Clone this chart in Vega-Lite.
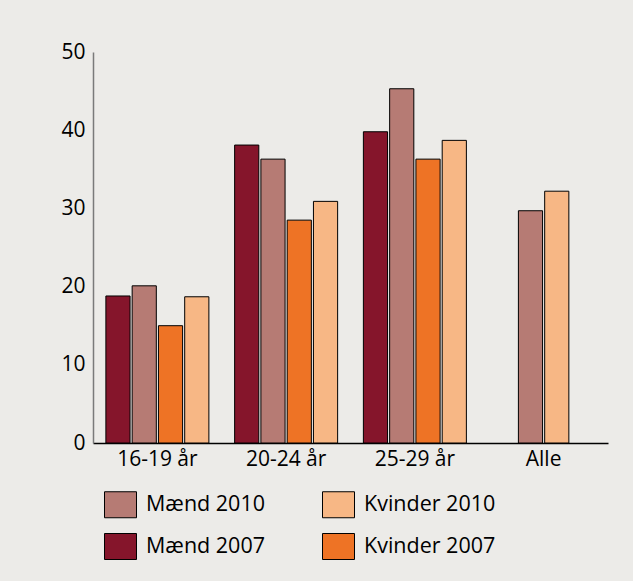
{
  "$schema": "https://vega.github.io/schema/vega-lite/v6.json",
  "autosize": "none",
  "width": 515,
  "height": 391,
  "padding": {"left": 93, "top": 52, "right": 25, "bottom": 138},
  "background": "#ecebe8",
  "config": {
    "font": "Open Sans",
    "view": {"stroke": null},
    "axis": {"labelFont": "Open Sans", "labelColor": "#000000", "labelFontSize": 21, "grid": false, "ticks": false, "title": null},
    "legend": {"labelFont": "Open Sans", "labelFontSize": 21.5, "labelColor": "#000000"}
  },
  "data": {
    "values": [
      {"group": "16-19 år", "series": "Mænd 2007", "value": 18.8},
      {"group": "16-19 år", "series": "Mænd 2010", "value": 20.1},
      {"group": "16-19 år", "series": "Kvinder 2007", "value": 15.0},
      {"group": "16-19 år", "series": "Kvinder 2010", "value": 18.7},
      {"group": "20-24 år", "series": "Mænd 2007", "value": 38.1},
      {"group": "20-24 år", "series": "Mænd 2010", "value": 36.3},
      {"group": "20-24 år", "series": "Kvinder 2007", "value": 28.5},
      {"group": "20-24 år", "series": "Kvinder 2010", "value": 30.9},
      {"group": "25-29 år", "series": "Mænd 2007", "value": 39.8},
      {"group": "25-29 år", "series": "Mænd 2010", "value": 45.3},
      {"group": "25-29 år", "series": "Kvinder 2007", "value": 36.3},
      {"group": "25-29 år", "series": "Kvinder 2010", "value": 38.7},
      {"group": "Alle", "series": "Mænd 2010", "value": 29.7},
      {"group": "Alle", "series": "Kvinder 2010", "value": 32.2}
    ]
  },
  "encoding": {
    "x": {
      "field": "group", "type": "nominal",
      "scale": {"domain": ["16-19 år", "20-24 år", "25-29 år", "Alle"], "paddingInner": 0.2, "paddingOuter": 0.1},
      "axis": {"labelAngle": 0, "domainColor": "#000000", "domainWidth": 1.5, "labelPadding": 5}
    },
    "y": {
      "field": "value", "type": "quantitative",
      "scale": {"domain": [0, 50], "nice": false},
      "axis": {"values": [0, 10, 20, 30, 40, 50], "domainColor": "#7a7a7a", "domainWidth": 1.5, "labelPadding": 8}
    },
    "color": {
      "field": "series", "type": "nominal",
      "scale": {
        "domain": ["Mænd 2010", "Mænd 2007", "Kvinder 2010", "Kvinder 2007"],
        "range": ["#b67b74", "#85152b", "#f7b785", "#ee7325"]
      },
      "legend": {
        "title": null,
        "orient": "none",
        "legendX": 11,
        "legendY": 436,
        "columns": 2,
        "columnPadding": 55,
        "rowPadding": 10,
        "symbolType": "M-1,-0.8125H1V0.8125H-1Z",
        "symbolSize": 1024,
        "symbolStrokeColor": "#000000",
        "symbolStrokeWidth": 1,
        "symbolOpacity": 1,
        "labelOffset": 9
      }
    }
  },
  "layer": [
    {
      "transform": [{"filter": "datum.group !== 'Alle'"}],
      "mark": {"type": "bar", "stroke": "#000000", "strokeWidth": 1, "opacity": 1},
      "encoding": {
        "xOffset": {"field": "series", "type": "nominal", "scale": {"domain": ["Mænd 2007", "Mænd 2010", "Kvinder 2007", "Kvinder 2010"], "paddingInner": 0.08}}
      }
    },
    {
      "transform": [{"filter": "datum.group === 'Alle'"}],
      "mark": {"type": "bar", "stroke": "#000000", "strokeWidth": 1, "opacity": 1},
      "encoding": {
        "xOffset": {"field": "series", "type": "nominal", "scale": {"domain": ["Mænd 2007", "Mænd 2010", "Kvinder 2010", "Kvinder 2007"], "paddingInner": 0.08}}
      }
    }
  ],
  "resolve": {"scale": {"xOffset": "independent"}}
}
